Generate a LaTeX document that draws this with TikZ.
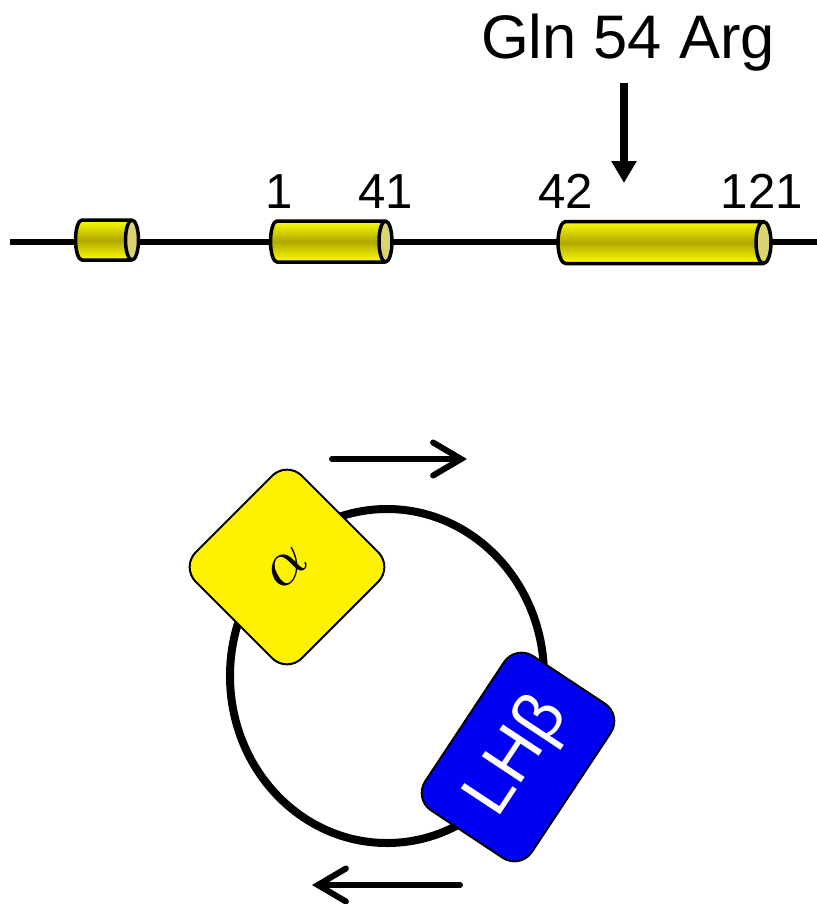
\documentclass[tikz,border=0pt]{standalone}
\usepackage{fontspec}
\setmainfont{Liberation Sans}
\usetikzlibrary{arrows.meta}

\definecolor{helixbright}{HTML}{FFFF00}
\definecolor{helixdark}{HTML}{B0A800}
\definecolor{helixend}{HTML}{DAD570}
\definecolor{lhblue}{HTML}{0000F5}

\tikzset{
  helixline/.style={line width=0.07cm, line join=round},
  numlabel/.style={anchor=base, inner sep=0pt, font=\fontsize{28}{28}\selectfont},
  subunit/.style={draw=black, line width=0.04cm, rounded corners=0.42cm,
                  minimum width=3cm, minimum height=3cm, inner sep=0pt},
  flowarrow/.style={line width=0.12cm, line cap=round,
                    -{Straight Barb[length=0.56cm, width=0.66cm, line cap=round]}},
}

% helix cylinder: #1 left x, #2 right-end x, #3 centre y, #4 half height, #5 end radius
\newcommand\helixcyl[5]{%
  \pgfmathsetmacro\hcx{#1+#5}%
  \pgfmathsetmacro\kx{0.5523*#5}%
  \pgfmathsetmacro\ky{0.5523*#4}%
  \shade[top color=helixbright, bottom color=helixbright, middle color=helixdark]
    (#2,#3-#4) -- (\hcx,#3-#4)
    .. controls (\hcx-\kx,#3-#4) and (#1,#3-\ky) .. (#1,#3)
    .. controls (#1,#3+\ky) and (\hcx-\kx,#3+#4) .. (\hcx,#3+#4)
    -- (#2,#3+#4) -- cycle;
  \draw[helixline]
    (#2,#3-#4) -- (\hcx,#3-#4)
    .. controls (\hcx-\kx,#3-#4) and (#1,#3-\ky) .. (#1,#3)
    .. controls (#1,#3+\ky) and (\hcx-\kx,#3+#4) .. (\hcx,#3+#4)
    -- (#2,#3+#4);
  \draw[helixline, fill=helixend] (#2,#3) ellipse[x radius=#5, y radius=#4];
}

\begin{document}
\begin{tikzpicture}[x=0.02cm, y=-0.02cm]
\useasboundingbox (0,0) rectangle (817,904);

% gene backbone
\coordinate (lineL) at (10,242);
\coordinate (lineR) at (817,242);
\draw[line width=0.11cm] (lineL) -- (lineR);

% exons as cylinders
\helixcyl{75.5}{132}{240}{20}{6.5}
\helixcyl{270.5}{385.5}{241.5}{20.5}{6.5}
\helixcyl{558}{763.5}{242.5}{21}{7.5}

% residue numbers
\node[numlabel] (n1)   at (279,208) {1};
\node[numlabel] (n41)  at (386,208) {41};
\node[numlabel] (n42)  at (566,208) {42};
\node[numlabel] (n121) at (762,208) {121};

% mutation
\node[anchor=base, inner sep=0pt, font=\fontsize{35}{35}\selectfont] (mut) at (628,58) {Gln 54 Arg};
\coordinate (mutS) at (624,83);
\coordinate (mutE) at (624,183);
\draw[line width=0.145cm, -{Triangle[length=0.44cm, width=0.48cm]}] (mutS) -- (mutE);

% receptor ring
\draw[line width=0.16cm] (387,676) ellipse[x radius=157, y radius=167];

% subunits
\node[subunit, fill=yellow, rotate=45] (alpha) at (287,567)
  {\scalebox{3.6}{$\alpha$}};
\node[subunit, fill=lhblue, text=white, rotate=56.5,
      minimum width=3.7cm, minimum height=2.56cm] (lhb) at (518,757)
  {\fontsize{39}{39}\selectfont LHβ};

% direction arrows
\coordinate (topA) at (332,459);
\coordinate (topB) at (467,459);
\draw[flowarrow] (topA) -- (topB);
\coordinate (botA) at (460,885);
\coordinate (botB) at (312,885);
\draw[flowarrow] (botA) -- (botB);
\end{tikzpicture}
\end{document}
